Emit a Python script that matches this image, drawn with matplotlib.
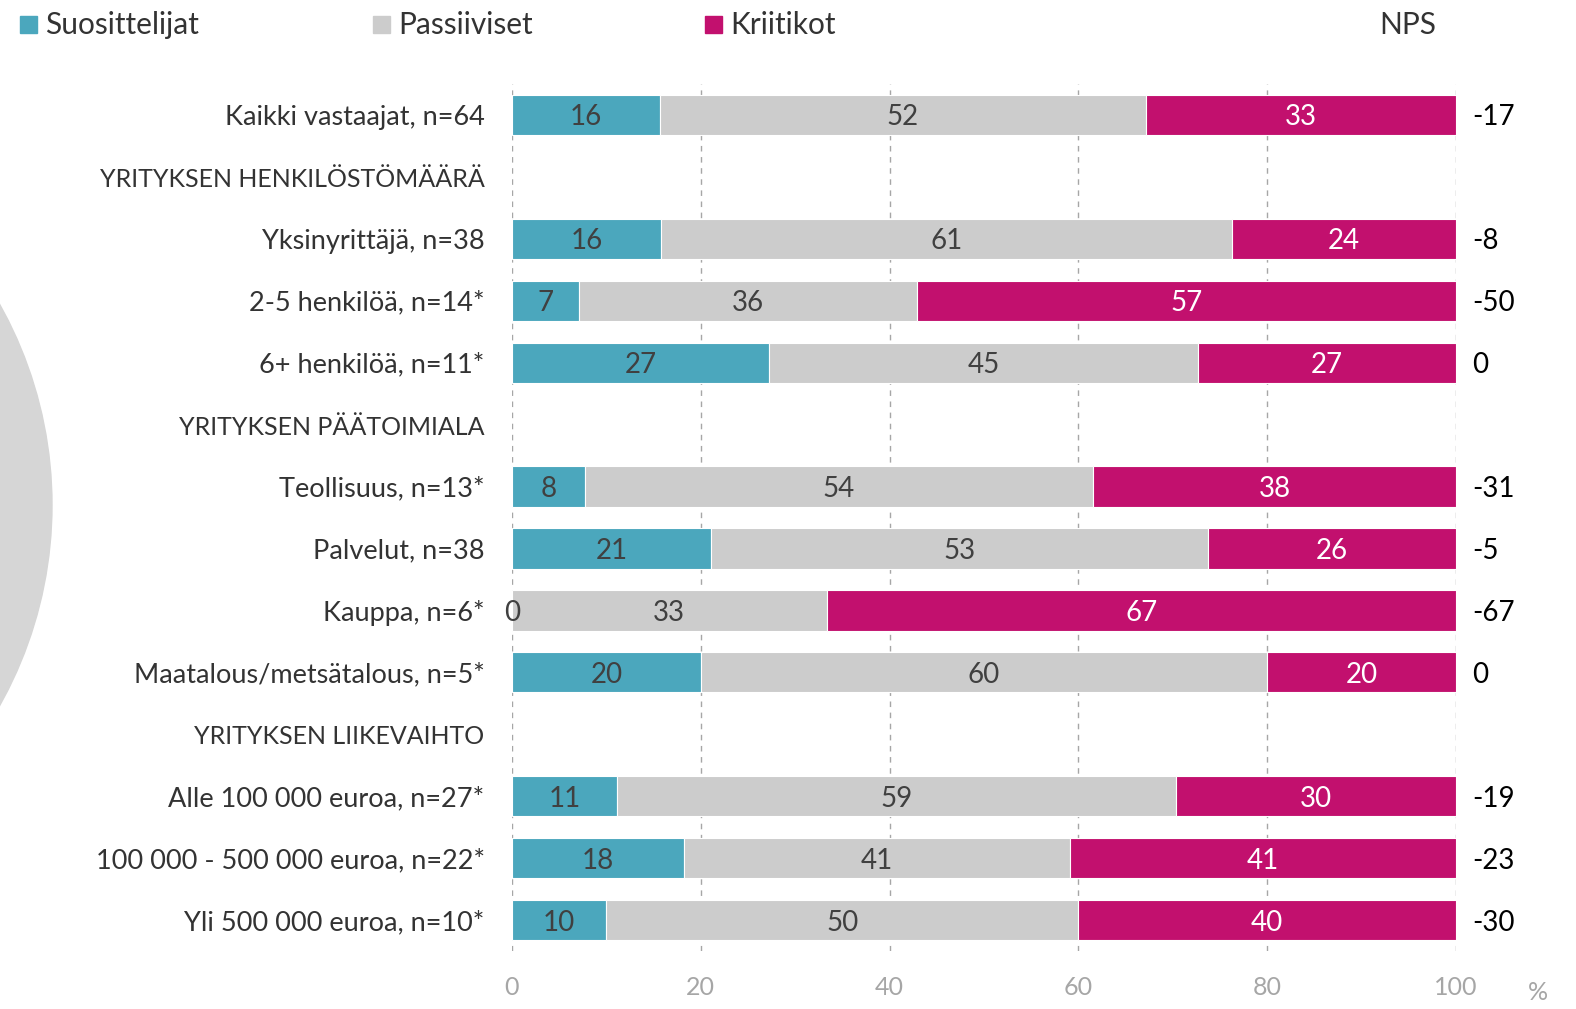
import matplotlib.pyplot as plt
from matplotlib.patches import Rectangle, Ellipse

plt.rcParams['font.family'] = ['Lato', 'DejaVu Sans']

# rivit ylhäältä alas, väliotsikot omilla riveillään
rivit = ["Kaikki vastaajat, n=64", "YRITYKSEN HENKILÖSTÖMÄÄRÄ",
         "Yksinyrittäjä, n=38", "2-5 henkilöä, n=14*", "6+ henkilöä, n=11*",
         "YRITYKSEN PÄÄTOIMIALA",
         "Teollisuus, n=13*", "Palvelut, n=38", "Kauppa, n=6*",
         "Maatalous/metsätalous, n=5*",
         "YRITYKSEN LIIKEVAIHTO",
         "Alle 100 000 euroa, n=27*", "100 000 - 500 000 euroa, n=22*",
         "Yli 500 000 euroa, n=10*"]
otsikot = ["YRITYKSEN HENKILÖSTÖMÄÄRÄ", "YRITYKSEN PÄÄTOIMIALA",
           "YRITYKSEN LIIKEVAIHTO"]

# prosenttiosuudet (vain palkkirivit)
suosittelijat = [15.63, 15.79, 7.14, 27.27, 7.69, 21.05, 0, 20, 11.11, 18.18, 10]
passiiviset = [51.56, 60.53, 35.71, 45.45, 53.85, 52.63, 33.33, 60, 59.26, 40.91, 50]
kriitikot = [32.81, 23.68, 57.14, 27.27, 38.46, 26.32, 66.67, 20, 29.63, 40.91, 40]
nps = [-17, -8, -50, 0, -31, -5, -67, 0, -19, -23, -30]

vari_s = "#4ba7bd"
vari_p = "#cccccc"
vari_k = "#c2106e"

fig = plt.figure(figsize=(15.76, 10.09), dpi=100)

# koristeympyrä vasemmassa reunassa
fig.patches.append(Ellipse((-358.6 / 1576, 1 - 505 / 1009), 2 * 410.6 / 1576,
                           2 * 410.6 / 1009, transform=fig.transFigure,
                           color="#d6d6d6", zorder=0))

ax = fig.add_axes([512 / 1576, 1 - 951 / 1009, 944 / 1576, 867 / 1009])

y_palkit = [i for i, r in enumerate(rivit) if r not in otsikot]

h = 0.65
ax.barh(y_palkit, suosittelijat, height=h, color=vari_s, edgecolor="white",
        linewidth=0.8, zorder=2)
ax.barh(y_palkit, passiiviset, left=suosittelijat, height=h, color=vari_p,
        edgecolor="white", linewidth=0.8, zorder=2)
vasen_k = [a + b for a, b in zip(suosittelijat, passiiviset)]
ax.barh(y_palkit, kriitikot, left=vasen_k, height=h, color=vari_k,
        edgecolor="white", linewidth=0.8, zorder=2)

dy = 0.04  # tekstit hieman alemmas keskilinjasta

# arvot palkkien keskelle
for y, s, p, k in zip(y_palkit, suosittelijat, passiiviset, kriitikot):
    ax.text(s / 2, y + dy, f"{s:.0f}", ha="center", va="center", fontsize=20,
            color="#404040", zorder=3)
    ax.text(s + p / 2, y + dy, f"{p:.0f}", ha="center", va="center",
            fontsize=20, color="#404040", zorder=3)
    ax.text(s + p + k / 2, y + dy, f"{k:.0f}", ha="center", va="center",
            fontsize=20, color="white", zorder=3)

# NPS oikealle
for y, n in zip(y_palkit, nps):
    ax.text(1.7 + 100, y + dy, str(n), ha="left", va="center", fontsize=20,
            color="black", clip_on=False)

# rivien nimet, väliotsikot hieman pienemmällä
for i, r in enumerate(rivit):
    koko = 18 if r in otsikot else 19.5
    ax.text(-2.9, i + dy, r, ha="right", va="center", fontsize=koko,
            color="#333333", clip_on=False)

ax.set_xlim(0, 100)
ax.set_ylim(13.5, -0.5)
for x in range(0, 101, 20):
    ax.axvline(x, color="#a6a6a6", linestyle=(0, (4, 4)), linewidth=1, zorder=1)

ax.set_xticks(range(0, 101, 20))
ax.set_yticks([])
ax.tick_params(axis="x", length=0, labelsize=18, labelcolor="#a6a6a6", pad=18)
for s in ax.spines.values():
    s.set_visible(False)

fig.text(1538 / 1576, 1 - 993 / 1009, "%", ha="center", va="center",
         fontsize=18, color="#a6a6a6")

# selite
selite = [("Suosittelijat", vari_s, 20), ("Passiiviset", vari_p, 373),
          ("Kriitikot", vari_k, 705)]
for teksti, vari, x in selite:
    fig.patches.append(Rectangle((x / 1576, 1 - 33 / 1009), 17 / 1576, 17 / 1009,
                                 transform=fig.transFigure, color=vari))
    fig.text((x + 25) / 1576, 1 - 25 / 1009, teksti, ha="left", va="center",
             fontsize=21.5, color="#333333")
fig.text(1436 / 1576, 1 - 25 / 1009, "NPS", ha="right", va="center",
         fontsize=21.5, color="#333333")

fig.savefig("out.png", dpi=100)
